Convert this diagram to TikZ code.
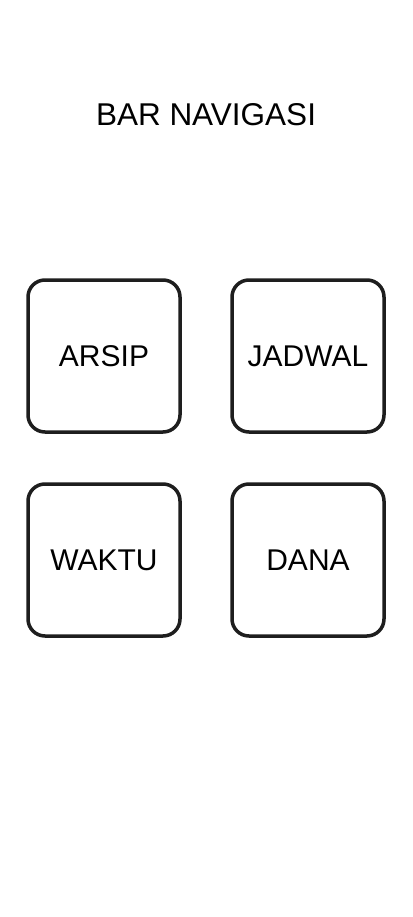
\documentclass[tikz,border=0pt]{standalone}
\usepackage{fontspec}
\setmainfont{Liberation Sans}
\usetikzlibrary{positioning}
\definecolor{garis}{HTML}{1E1E1E}

\begin{document}
\begin{tikzpicture}[x=1pt,y=1pt,node distance=204pt,on grid,
    menu/.style={draw=garis,line width=3.5pt,rounded corners=17pt,minimum size=152pt,inner sep=0pt,font=\fontsize{30}{30}\selectfont}]
  \useasboundingbox[fill=white] (0,0) rectangle (412,-917);
  \node[font=\fontsize{31.5}{31.5}\selectfont] (judul) at (206,-115) {BAR NAVIGASI};

  \node[menu]         (arsip) at (104,-356) {ARSIP};
  \node[menu]         (jadwal) [right=of arsip] {JADWAL};
  \node[menu]         (waktu) [below=of arsip] {WAKTU};
  \node[menu]         (dana) [right=of waktu] {DANA};
\end{tikzpicture}
\end{document}
